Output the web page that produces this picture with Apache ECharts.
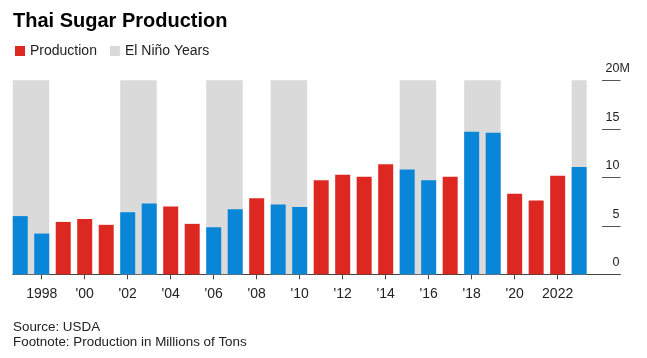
<!DOCTYPE html>
<html>
<head>
<meta charset="utf-8">
<script src="https://cdn.jsdelivr.net/npm/echarts@6/dist/echarts.min.js"></script>
<style>
  html, body { margin: 0; padding: 0; background: #fff; }
  #chart { width: 647px; height: 358px; }
</style>
</head>
<body>
<div id="chart"></div>
<script>
// ---- data ----
const years = [1997, 1998, 1999, 2000, 2001, 2002, 2003, 2004, 2005, 2006, 2007, 2008, 2009, 2010,
               2011, 2012, 2013, 2014, 2015, 2016, 2017, 2018, 2019, 2020, 2021, 2022, 2023];
const production = [6.0, 4.2, 5.4, 5.7, 5.1, 6.4, 7.3, 7.0, 5.2, 4.85, 6.7, 7.85, 7.2, 6.95,
                    9.7, 10.25, 10.05, 11.35, 10.8, 9.7, 10.05, 14.7, 14.6, 8.3, 7.6, 10.15, 11.05];
const elNinoRanges = [[1997, 1998], [2002, 2003], [2006, 2007], [2009, 2010], [2015, 2016], [2018, 2019], [2023, 2023]];
const elNinoTop = 20;
const tickYears = [1998, 2000, 2002, 2004, 2006, 2008, 2010, 2012, 2014, 2016, 2018, 2020, 2022];
const yTicks = [0, 5, 10, 15, 20];

// ---- style ----
const RED = '#dc2820';
const BLUE = '#0a86d8';
const GRAY = '#dadada';
const BAR_W = 15;
const FONT = '"Liberation Sans", Arial, Helvetica, sans-serif';

const isElNino = y => elNinoRanges.some(r => y >= r[0] && y <= r[1]);

const barData = years.map((y, i) => ({
  value: [y, production[i]],
  itemStyle: { color: isElNino(y) ? BLUE : RED }
}));
const bandData = elNinoRanges.map(r => [r[0], r[1], elNinoTop]);

const chart = echarts.init(document.getElementById('chart'), null, { renderer: 'canvas' });
chart.setOption({
  animation: false,
  backgroundColor: '#fff',
  textStyle: { fontFamily: FONT },
  title: [
    {
      text: 'Thai Sugar Production',
      left: 13, top: 11, padding: 0,
      textStyle: { fontFamily: FONT, fontSize: 20, fontWeight: 'bold', color: '#000' }
    },
    {
      text: 'Source: USDA\nFootnote: Production in Millions of Tons',
      left: 13, top: 320, padding: 0,
      textStyle: { fontFamily: FONT, fontSize: 13.4, fontWeight: 'normal', color: '#222', lineHeight: 15 }
    }
  ],
  legend: {
    left: 15, top: 44, padding: 0,
    itemWidth: 10, itemHeight: 10, itemGap: 13,
    textStyle: { fontFamily: FONT, fontSize: 14, color: '#222' },
    data: [
      { name: 'Production', icon: 'rect', itemStyle: { color: RED } },
      { name: 'El Niño Years', icon: 'rect', itemStyle: { color: GRAY } }
    ],
    selectedMode: false
  },
  grid: [
    { left: 12.7, right: 27, top: 80.3, bottom: 83.7, containLabel: false },
    { left: 602, right: 26.5, top: 80.3, bottom: 83.7, containLabel: false }
  ],
  xAxis: [
    {
      type: 'value', gridIndex: 0,
      min: 1996.65, max: 2024.9,
      splitLine: { show: false },
      axisLine: { show: true, lineStyle: { color: '#444', width: 1 } },
      axisTick: { show: true, customValues: tickYears, length: 5, lineStyle: { color: '#444' } },
      axisLabel: {
        customValues: tickYears, margin: 13,
        fontFamily: FONT, fontSize: 14, color: '#222',
        formatter: v => (v === 1998 || v === 2022) ? String(v) : "'" + String(v).slice(2)
      }
    },
    {
      type: 'value', gridIndex: 1, min: 0, max: 1, show: false
    }
  ],
  yAxis: [
    { type: 'value', gridIndex: 0, min: 0, max: 20, show: false },
    {
      type: 'value', gridIndex: 1, min: 0, max: 20, interval: 5,
      position: 'right',
      axisLine: { show: false },
      axisTick: { show: false },
      splitLine: { show: true, lineStyle: { color: '#555', width: 1 } },
      axisLabel: {
        inside: true, margin: 1,
        verticalAlign: 'bottom',
        fontFamily: FONT, fontSize: 12.5, color: '#222',
        formatter: v => v === 20 ? '{n|20}{m|M}' : '{n|' + v + '}',
        rich: {
          n: { fontFamily: FONT, fontSize: 12.5, color: '#222', align: 'left', padding: [0, 0, 5, 0] },
          m: { fontFamily: FONT, fontSize: 12.5, color: '#222', align: 'left', width: 0, padding: [0, 0, 5, 0] }
        }
      }
    }
  ],
  series: [
    {
      name: 'El Niño Years',
      type: 'custom',
      xAxisIndex: 0, yAxisIndex: 0,
      z: 1,
      itemStyle: { color: GRAY },
      encode: { x: [0, 1], y: 2 },
      data: bandData,
      renderItem: function (params, api) {
        const s = api.value(0), e = api.value(1), top = api.value(2);
        const p0 = api.coord([s, top]);
        const p1 = api.coord([e, 0]);
        return {
          type: 'rect',
          shape: { x: p0[0] - BAR_W / 2, y: p0[1], width: p1[0] - p0[0] + BAR_W, height: p1[1] - p0[1] },
          style: { fill: GRAY }
        };
      }
    },
    {
      name: 'Production',
      type: 'bar',
      xAxisIndex: 0, yAxisIndex: 0,
      z: 2,
      barWidth: BAR_W,
      itemStyle: { color: RED },
      data: barData
    }
  ]
});
</script>
</body>
</html>
